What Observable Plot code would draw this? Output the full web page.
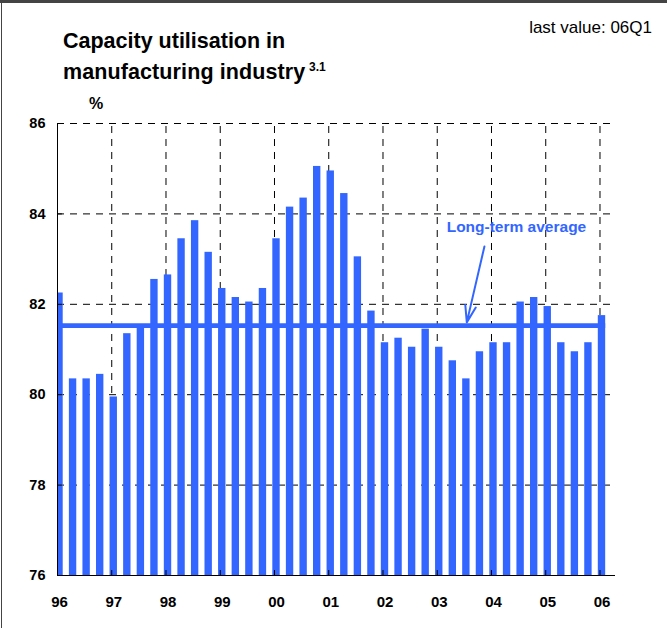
<!DOCTYPE html>
<html>
<head>
<meta charset="utf-8">
<script src="https://cdn.jsdelivr.net/npm/d3@7"></script>
<script src="https://cdn.jsdelivr.net/npm/@observablehq/plot@0.6"></script>
<style>
  html, body { margin: 0; padding: 0; background: #fff; }
  #wrap { position: relative; width: 667px; height: 628px; overflow: hidden; background: #fff;
          font-family: "Liberation Sans", Arial, Helvetica, sans-serif; }
  .t { position: absolute; white-space: nowrap; line-height: 1; color: #000; }
  #chart { position: absolute; left: 0; top: 0; }
  #bTop { position: absolute; left: 0; top: 0; width: 667px; height: 3px; background: #444; }
  #bLeft { position: absolute; left: 1px; top: 0; width: 1px; height: 628px; background: #444; }
</style>
</head>
<body>
<div id="wrap">
  <div id="chart"></div>
  <div class="t" style="left:63px; top:30.8px; font-size:21.5px; font-weight:bold;">Capacity utilisation in</div>
  <div class="t" style="left:63px; top:61.8px; font-size:21.5px; font-weight:bold; letter-spacing:0.1px;">manufacturing industry</div>
  <div class="t" style="left:309px; top:61px; font-size:12px; font-weight:bold;">3.1</div>
  <div class="t" style="left:89px; top:95.5px; font-size:16px; font-weight:bold;">%</div>
  <div class="t" style="right:15px; top:18.6px; font-size:17px;">last value: 06Q1</div>
  <div id="bTop"></div>
  <div id="bLeft"></div>
</div>
<script>
// Quarterly capacity utilisation, 96Q1 .. 06Q1 (%)
const startYear = 1996;
const values = [
  82.25, 80.35, 80.35, 80.45,   // 96
  79.95, 81.35, 81.5, 82.55,    // 97
  82.65, 83.45, 83.85, 83.15,   // 98
  82.35, 82.15, 82.05, 82.35,   // 99
  83.45, 84.15, 84.35, 85.05,   // 00
  84.95, 84.45, 83.05, 81.85,   // 01
  81.15, 81.25, 81.05, 81.45,   // 02
  81.05, 80.75, 80.35, 80.95,   // 03
  81.15, 81.15, 82.05, 82.15,   // 04
  81.95, 81.15, 80.95, 81.15,   // 05
  81.75                          // 06
];
const longTermAverage = 81.53;
const years = [1996, 1997, 1998, 1999, 2000, 2001, 2002, 2003, 2004, 2005, 2006];
const xLabels = ["96", "97", "98", "99", "00", "01", "02", "03", "04", "05", "06"];
const yTicks = [76, 78, 80, 82, 84, 86];
const annotationText = [{x: 2004.46, y: 83.72, text: "Long-term average"}];
const annotationArrow = [{x1: 2003.87, y1: 83.28, x2: 2003.545, y2: 81.6}];

const blue = "#3366ff";
const barOffset = 0.037;   // bar centre slightly right of the period start
const barHalf = 0.068;     // half bar width in years

const bars = values.map((v, i) => {
  const t = startYear + i / 4;
  return {x1: t + barOffset - barHalf, x2: t + barOffset + barHalf, v};
});
const lastT = startYear + (values.length - 1) / 4;
const dash = "7,6";

const chart = Plot.plot({
  width: 667,
  height: 628,
  marginLeft: 57,
  marginRight: 52,
  marginTop: 123,
  marginBottom: 53,
  style: {fontFamily: '"Liberation Sans", Arial, sans-serif', background: "transparent", color: "#000"},
  x: {domain: [1996, 2006.286]},
  y: {domain: [76, 86]},
  marks: [
    // dashed grid
    Plot.ruleY(yTicks.slice(1), {stroke: "#000", strokeWidth: 1, strokeDasharray: dash}),
    Plot.ruleX(years.slice(1), {y1: 76, y2: 86, stroke: "#000", strokeWidth: 1, strokeDasharray: dash}),
    // bars
    Plot.rectY(bars, {x1: "x1", x2: "x2", y1: 76, y2: "v", fill: blue, clip: true}),
    // long-term average
    Plot.ruleY([longTermAverage], {x1: 1996, x2: lastT + barOffset + barHalf, stroke: blue, strokeWidth: 4.7}),
    // annotation
    Plot.arrow(annotationArrow, {x1: "x1", y1: "y1", x2: "x2", y2: "y2", stroke: blue, strokeWidth: 2, headLength: 13, headAngle: 36, bend: 0}),
    Plot.text(annotationText, {x: "x", y: "y", text: "text", fill: blue, fontSize: 15.5, fontWeight: "bold"}),
    // axes lines and inward ticks
    Plot.ruleX([1996], {y1: 76, y2: 86, stroke: "#000", strokeWidth: 1}),
    Plot.ruleY([76], {stroke: "#000", strokeWidth: 1}),
    Plot.ruleY(yTicks, {x1: 1996, x2: 1996.09, stroke: "#000", strokeWidth: 1}),
    Plot.ruleX(years, {y1: 76, y2: 76.11, stroke: "#000", strokeWidth: 1}),
    Plot.axisY({ticks: yTicks, tickSize: 0, tickPadding: 12, fontSize: 14.5, fontWeight: "bold", label: null, fill: "#000"}),
    Plot.axisX({ticks: years, tickSize: 0, tickPadding: 21, dx: 2, fontSize: 15, fontWeight: "bold", label: null, fill: "#000",
      tickFormat: d => xLabels[years.indexOf(d)]})
  ]
});
document.getElementById("chart").appendChild(chart);
</script>
</body>
</html>
